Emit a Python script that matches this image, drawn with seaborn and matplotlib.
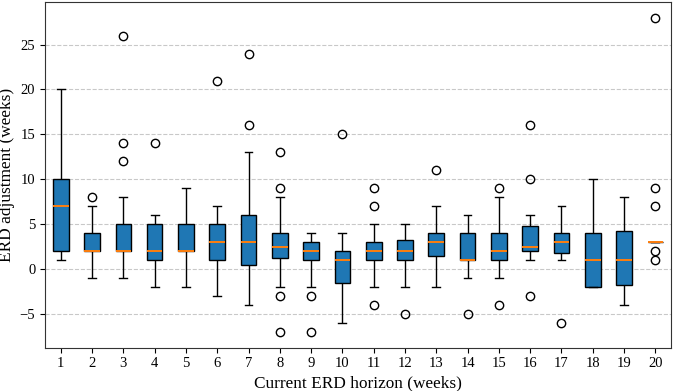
import pandas as pd
import seaborn as sns
import matplotlib.pyplot as plt

# ERD adjustments (weeks) observed for each current ERD horizon (weeks)
horizons = list(range(1, 21))

h1 = [1, 2, 2, 5, 7, 8, 10, 14, 20]
h2 = [-1, 1, 2, 2, 2, 3, 4, 7, 8]
h3 = [-1, 0, 1, 2, 2, 2, 2, 2, 2, 3, 4, 5, 5, 8, 12, 14, 26]
h4 = [-2, 0, 1, 2, 2, 4, 5, 6, 14]
h5 = [-2, 1, 2, 2, 2, 3, 5, 6, 9]
h6 = [-3, 0, 1, 2, 3, 4, 5, 7, 21]
h7 = [-4, -1, 0, 0, 1, 2, 3, 3, 4, 5, 6, 6, 13, 16, 24]
h8 = [-7, -3, -2, 1, 2, 2, 2, 3, 3, 4, 4, 8, 9, 13]
h9 = [-7, -3, -2, 1, 1, 2, 2, 2, 3, 3, 3, 4, 4]
h10 = [-6, -3, -2, -1, 0, 1, 2, 2, 2, 4, 15]
h11 = [-4, -2, 0, 1, 1, 2, 2, 2, 3, 3, 5, 7, 9]
h12 = [-5, -2, 1, 1, 1, 2, 2, 3, 3, 4, 5, 5]
h13 = [-2, 0, 1, 2, 3, 3, 3, 4, 4, 7, 11]
h14 = [-5, -1, 1, 1, 1, 2, 4, 5, 6]
h15 = [-4, -1, 1, 2, 2, 3, 4, 8, 9]
h16 = [-3, 1, 1, 2, 2, 2, 2, 3, 4, 4, 5, 6, 10, 16]
h17 = [-6, 1, 1, 2, 2, 3, 3, 3, 4, 4, 5, 7]
h18 = [-2, -2, -2, 0, 1, 2, 4, 6, 10]
h19 = [-4, -4, -4, -1, 0, 1, 1, 2, 4, 5, 6, 8]
h20 = [1, 2, 3, 3, 3, 3, 3, 3, 3, 3, 7, 9, 28]

groups = [h1, h2, h3, h4, h5, h6, h7, h8, h9, h10,
          h11, h12, h13, h14, h15, h16, h17, h18, h19, h20]

rows = []
for h, vals in zip(horizons, groups):
    for v in vals:
        rows.append({"horizon": h, "adjustment": v})
df = pd.DataFrame(rows)

plt.rcParams["font.family"] = ["Liberation Serif", "DejaVu Serif"]

fig, ax = plt.subplots(figsize=(6.73, 3.91), dpi=100)

sns.boxplot(
    data=df, x="horizon", y="adjustment", ax=ax,
    color="#1f77b4", saturation=1, width=0.5,
    linecolor="black", linewidth=1,
    medianprops={"color": "#ff7f0e", "linewidth": 1.4},
    flierprops={"marker": "o", "markerfacecolor": "none",
                "markeredgecolor": "black", "markersize": 6},
)

ax.yaxis.grid(True, linestyle="--", color="#bbbbbb", linewidth=0.8, alpha=0.8)
ax.set_axisbelow(True)
for s in ax.spines.values():
    s.set_visible(True)
    s.set_color("#333333")

ax.set_xlabel("Current ERD horizon (weeks)", fontsize=12.4)
ax.set_ylabel("ERD adjustment (weeks)", fontsize=12.4)
ax.yaxis.set_label_coords(-0.048, 0.5)
ax.tick_params(labelsize=10.5, length=3.5, width=0.8, direction="out")

plt.subplots_adjust(left=0.067, right=0.997, top=0.995, bottom=0.111)
plt.savefig("out.png", dpi=100)
